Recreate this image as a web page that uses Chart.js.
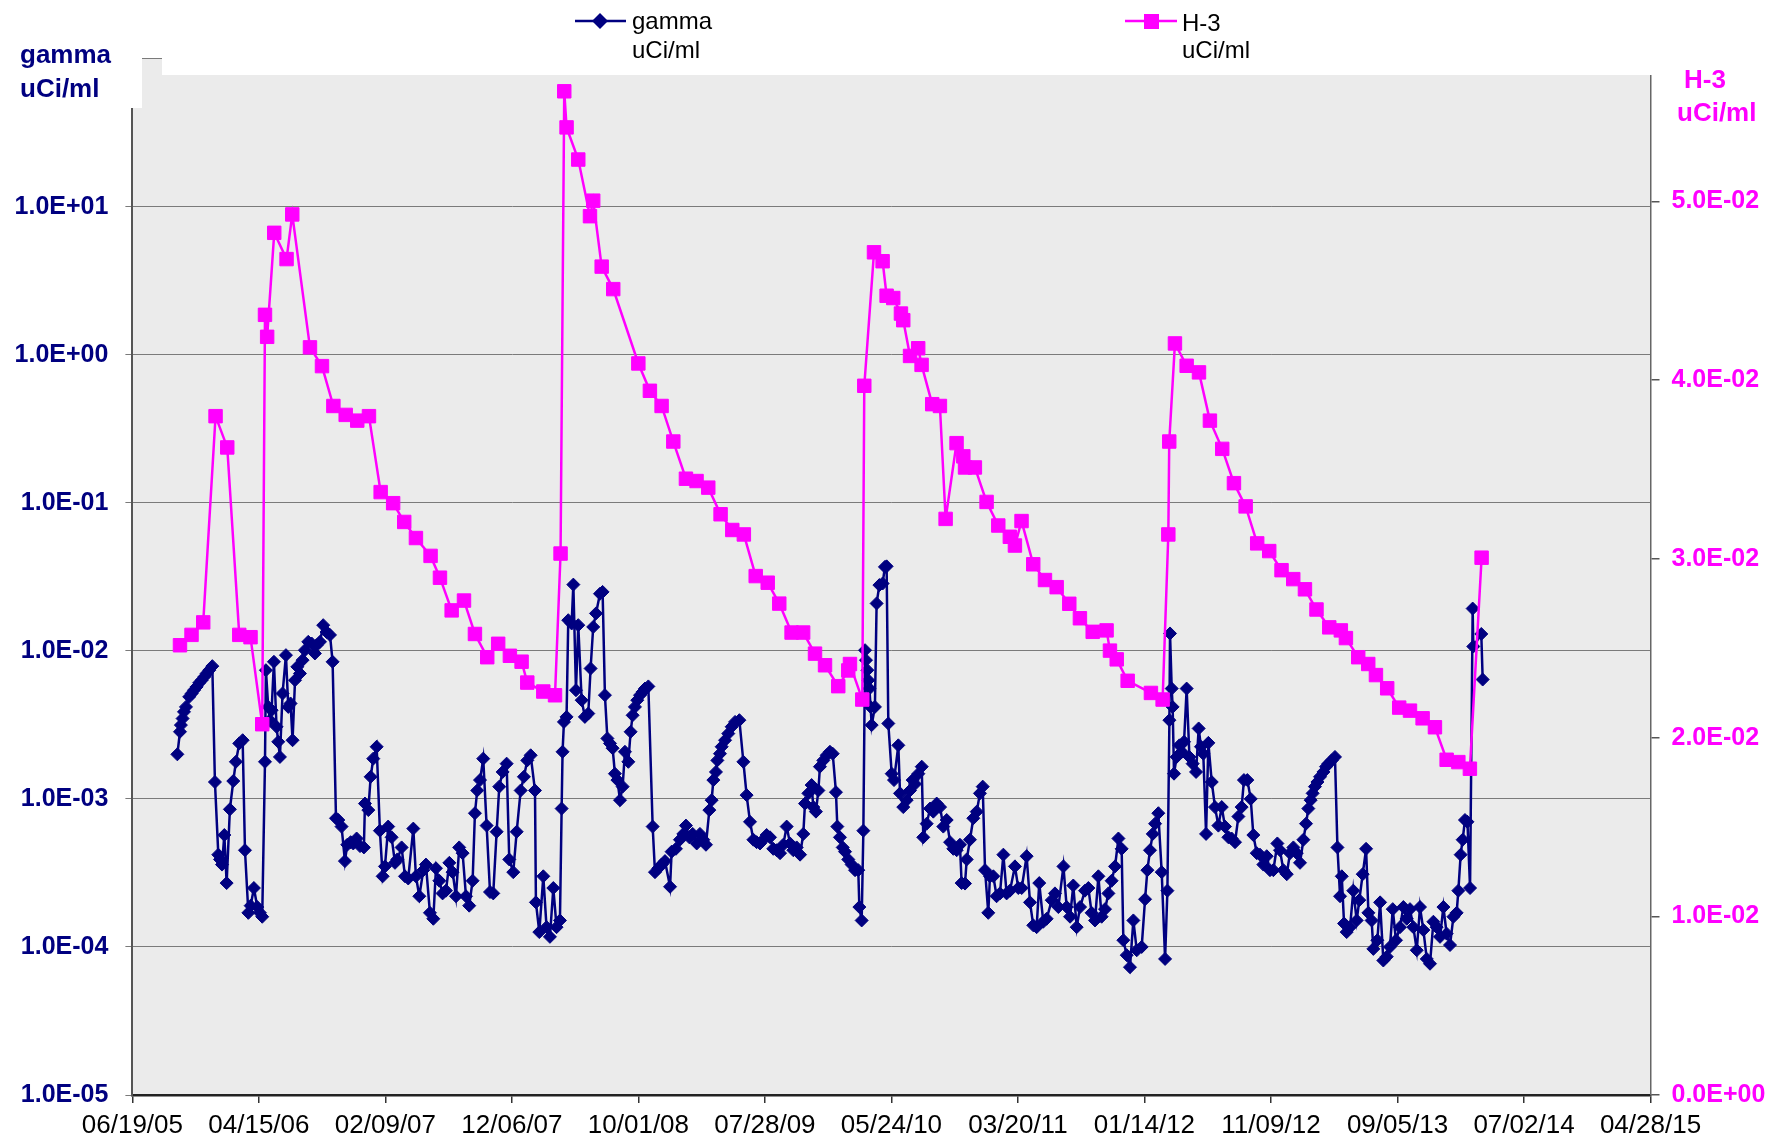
<!DOCTYPE html>
<html>
<head>
<meta charset="utf-8">
<script src="https://cdn.jsdelivr.net/npm/chart.js@4.4.1/dist/chart.umd.min.js"></script>
<style>
  html, body { margin: 0; padding: 0; background: #fff; }
  canvas { display: block; }
</style>
</head>
<body>
<canvas id="chart" width="1775" height="1141"></canvas>
<script>
// x axis tick labels (MM/DD/YY), 300 days apart
const xTickLabels = ['06/19/05', '04/15/06', '02/09/07', '12/06/07', '10/01/08', '07/28/09', '05/24/10',
  '03/20/11', '01/14/12', '11/09/12', '09/05/13', '07/02/14', '04/28/15'];
const gammaTicks = [1e-5, 1e-4, 1e-3, 1e-2, 1e-1, 1, 10, 100];
const h3Ticks = [0, 0.01, 0.02, 0.03, 0.04, 0.05];

const gammaName = ['gamma', 'uCi/ml'];
const h3Name = ['H-3', 'uCi/ml'];

// sample dates as decimal years
const gammaDates = [
  2005.756, 2005.773, 2005.779, 2005.790, 2005.799, 2005.812, 2005.833, 2005.849, 2005.864, 2005.881,
  2005.898, 2005.914, 2005.931, 2005.946, 2005.963, 2005.983, 2006.000, 2006.022, 2006.033, 2006.046,
  2006.061, 2006.076, 2006.097, 2006.119, 2006.136, 2006.158, 2006.180, 2006.195, 2006.217, 2006.232,
  2006.253, 2006.275, 2006.292, 2006.307, 2006.325, 2006.331, 2006.346, 2006.357, 2006.368, 2006.383,
  2006.400, 2006.411, 2006.422, 2006.439, 2006.461, 2006.476, 2006.491, 2006.504, 2006.520, 2006.535,
  2006.552, 2006.569, 2006.584, 2006.606, 2006.628, 2006.649, 2006.660, 2006.682, 2006.703, 2006.725,
  2006.747, 2006.764, 2006.786, 2006.801, 2006.822, 2006.844, 2006.859, 2006.881, 2006.898, 2006.920,
  2006.942, 2006.967, 2006.974, 2006.996, 2007.011, 2007.028, 2007.050, 2007.071, 2007.089, 2007.104,
  2007.125, 2007.147, 2007.169, 2007.184, 2007.212, 2007.234, 2007.255, 2007.288, 2007.305, 2007.327,
  2007.353, 2007.370, 2007.396, 2007.418, 2007.435, 2007.457, 2007.478, 2007.500, 2007.522, 2007.543,
  2007.565, 2007.586, 2007.608, 2007.630, 2007.651, 2007.673, 2007.688, 2007.703, 2007.721, 2007.742,
  2007.764, 2007.786, 2007.807, 2007.829, 2007.846, 2007.868, 2007.894, 2007.911, 2007.937, 2007.959,
  2007.985, 2008.006, 2008.028, 2008.050, 2008.078, 2008.084, 2008.106, 2008.132, 2008.153, 2008.175,
  2008.197, 2008.218, 2008.240, 2008.251, 2008.257, 2008.266, 2008.283, 2008.294, 2008.316, 2008.327,
  2008.344, 2008.359, 2008.381, 2008.402, 2008.424, 2008.439, 2008.456, 2008.474, 2008.500, 2008.517,
  2008.532, 2008.548, 2008.565, 2008.582, 2008.597, 2008.613, 2008.630, 2008.647, 2008.662, 2008.684,
  2008.699, 2008.712, 2008.727, 2008.742, 2008.760, 2008.777, 2008.792, 2008.814, 2008.842, 2008.857,
  2008.879, 2008.900, 2008.922, 2008.955, 2008.965, 2008.993, 2009.019, 2009.041, 2009.058, 2009.080,
  2009.102, 2009.128, 2009.149, 2009.171, 2009.188, 2009.210, 2009.225, 2009.236, 2009.253, 2009.262,
  2009.279, 2009.290, 2009.312, 2009.333, 2009.355, 2009.377, 2009.405, 2009.431, 2009.452, 2009.474,
  2009.496, 2009.517, 2009.539, 2009.560, 2009.582, 2009.604, 2009.625, 2009.647, 2009.669, 2009.690,
  2009.712, 2009.734, 2009.755, 2009.777, 2009.799, 2009.820, 2009.831, 2009.853, 2009.874, 2009.885,
  2009.902, 2009.918, 2009.928, 2009.950, 2009.972, 2009.993, 2010.011, 2010.032, 2010.041, 2010.058,
  2010.076, 2010.091, 2010.112, 2010.134, 2010.156, 2010.177, 2010.184, 2010.199, 2010.210, 2010.221,
  2010.227, 2010.236, 2010.242, 2010.249, 2010.257, 2010.264, 2010.285, 2010.296, 2010.314, 2010.335,
  2010.350, 2010.361, 2010.372, 2010.394, 2010.409, 2010.437, 2010.448, 2010.469, 2010.491, 2010.513,
  2010.530, 2010.545, 2010.567, 2010.589, 2010.599, 2010.621, 2010.643, 2010.664, 2010.686, 2010.708,
  2010.729, 2010.751, 2010.773, 2010.794, 2010.816, 2010.837, 2010.848, 2010.870, 2010.881, 2010.902,
  2010.924, 2010.946, 2010.967, 2010.985, 2011.000, 2011.021, 2011.032, 2011.054, 2011.075, 2011.097,
  2011.119, 2011.140, 2011.162, 2011.194, 2011.216, 2011.238, 2011.270, 2011.292, 2011.313, 2011.335,
  2011.352, 2011.378, 2011.400,
  2011.433, 2011.454, 2011.476, 2011.509, 2011.530, 2011.552, 2011.573, 2011.595, 2011.617, 2011.649,
  2011.671, 2011.692, 2011.714, 2011.736, 2011.757, 2011.779, 2011.801, 2011.822, 2011.844, 2011.866,
  2011.887, 2011.898, 2011.920, 2011.941, 2011.963, 2011.985, 2012.017, 2012.039, 2012.054, 2012.071,
  2012.089, 2012.104, 2012.125, 2012.147, 2012.169, 2012.184, 2012.197, 2012.201, 2012.212, 2012.218,
  2012.227, 2012.244, 2012.262, 2012.277, 2012.292, 2012.309, 2012.327, 2012.348, 2012.370, 2012.387,
  2012.402, 2012.417, 2012.435, 2012.450, 2012.472, 2012.493, 2012.515, 2012.537, 2012.558, 2012.580,
  2012.601, 2012.623, 2012.645, 2012.666, 2012.681, 2012.703, 2012.725, 2012.742, 2012.764, 2012.785,
  2012.807, 2012.829, 2012.850, 2012.872, 2012.898, 2012.915, 2012.937, 2012.959, 2012.980, 2013.002,
  2013.024, 2013.045, 2013.067, 2013.084, 2013.099, 2013.114, 2013.127, 2013.142, 2013.158, 2013.175,
  2013.197, 2013.214, 2013.229, 2013.251, 2013.272, 2013.288, 2013.305, 2013.316, 2013.331, 2013.348,
  2013.370, 2013.391, 2013.413, 2013.430, 2013.452, 2013.474, 2013.489, 2013.510, 2013.521, 2013.547,
  2013.565, 2013.586, 2013.608, 2013.629, 2013.647, 2013.668, 2013.694, 2013.716, 2013.738, 2013.759,
  2013.781, 2013.803, 2013.824, 2013.846, 2013.868, 2013.889, 2013.911, 2013.932, 2013.954, 2013.976,
  2013.997, 2014.019, 2014.041, 2014.062, 2014.073, 2014.088, 2014.101, 2014.116, 2014.132, 2014.149,
  2014.166, 2014.170, 2014.222, 2014.231
];
const gammaValues = [
  2.0e-3, 2.84e-3, 3.15e-3, 3.49e-3, 3.87e-3, 4.18e-3, 4.89e-3, 5.15e-3, 5.42e-3, 5.71e-3,
  6.08e-3, 6.33e-3, 6.67e-3, 7.03e-3, 7.40e-3, 7.88e-3, 1.30e-3, 4.2e-4, 3.9e-4, 3.6e-4,
  5.7e-4, 2.7e-4, 8.5e-4, 1.32e-3, 1.78e-3, 2.37e-3, 2.49e-3, 4.5e-4, 1.7e-4, 1.9e-4,
  2.5e-4, 1.86e-4, 1.7e-4, 1.6e-4, 1.78e-3, 7.4e-3, 4.18e-3, 3.4e-3, 3.97e-3, 8.43e-3,
  3.07e-3, 2.43e-3, 1.92e-3, 5.15e-3, 9.35e-3, 4.18e-3, 4.41e-3, 2.49e-3, 6.33e-3, 7.8e-3,
  7.03e-3, 8.65e-3, 1.01e-2, 1.15e-2, 1.12e-2, 9.6e-3, 1.09e-2, 1.15e-2, 1.49e-2, 1.34e-2,
  1.28e-2, 8.43e-3, 7.4e-4, 7.2e-4, 6.5e-4, 3.8e-4, 4.9e-4, 5.1e-4, 5.0e-4, 5.4e-4,
  4.8e-4, 4.7e-4, 9.3e-4, 8.4e-4, 1.41e-3, 1.87e-3, 2.25e-3, 6.1e-4, 3.0e-4, 3.5e-4,
  6.5e-4, 5.5e-4, 3.7e-4, 3.9e-4, 4.7e-4, 3.0e-4, 2.9e-4, 6.3e-4, 3.0e-4, 2.2e-4,
  3.3e-4, 3.6e-4, 1.7e-4, 1.55e-4, 3.4e-4, 2.8e-4, 2.3e-4, 2.4e-4, 3.7e-4, 3.2e-4,
  2.2e-4, 4.7e-4, 4.3e-4, 2.2e-4, 1.9e-4, 2.8e-4, 8.0e-4, 1.14e-3, 1.34e-3, 1.87e-3,
  6.6e-4, 2.35e-4, 2.3e-4, 6.0e-4, 1.21e-3, 1.52e-3, 1.73e-3, 3.9e-4, 3.2e-4, 6.0e-4,
  1.14e-3, 1.41e-3, 1.82e-3, 1.97e-3, 1.14e-3, 2.0e-4, 1.26e-4, 3.0e-4, 1.36e-4, 1.17e-4,
  2.5e-4, 1.36e-4, 1.51e-4, 8.6e-4, 2.08e-3, 3.31e-3, 3.58e-3, 1.61e-2, 1.53e-2, 2.8e-2,
  5.42e-3, 1.49e-2, 4.64e-3, 3.58e-3, 3.77e-3, 7.6e-3, 1.45e-2, 1.79e-2, 2.43e-2, 2.5e-2,
  5.02e-3, 2.56e-3, 2.37e-3, 2.2e-3, 1.48e-3, 1.34e-3, 9.8e-4, 1.21e-3, 2.08e-3, 1.78e-3,
  2.84e-3, 3.67e-3, 4.18e-3, 4.64e-3, 5.02e-3, 5.28e-3, 5.56e-3, 5.75e-3, 6.5e-4, 3.2e-4,
  3.4e-4, 3.6e-4, 3.8e-4, 2.55e-4, 4.4e-4, 4.6e-4, 5.3e-4, 5.8e-4, 6.6e-4, 5.5e-4,
  5.8e-4, 5.0e-4, 5.8e-4, 5.3e-4, 4.9e-4, 8.4e-4, 9.8e-4, 1.34e-3, 1.52e-3, 1.82e-3,
  2.02e-3, 2.25e-3, 2.49e-3, 2.76e-3, 3.07e-3, 3.31e-3, 3.4e-3, 1.78e-3, 1.06e-3, 7.0e-4,
  5.3e-4, 5.1e-4, 5.0e-4, 5.3e-4, 5.7e-4, 5.5e-4, 4.6e-4, 4.5e-4, 4.3e-4, 4.9e-4,
  6.5e-4, 5.0e-4, 4.5e-4, 4.7e-4, 4.2e-4, 5.8e-4, 9.3e-4, 1.09e-3, 1.24e-3, 8.8e-4,
  8.2e-4, 1.14e-3, 1.65e-3, 1.82e-3, 1.97e-3, 2.08e-3, 2.02e-3, 1.11e-3, 6.5e-4, 5.5e-4,
  4.7e-4, 4.4e-4, 3.9e-4, 3.6e-4, 3.3e-4, 3.3e-4, 1.86e-4, 1.51e-4, 6.1e-4, 1.01e-2,
  8.65e-3, 7.4e-3, 6.33e-3, 5.56e-3, 4.18e-3, 3.15e-3, 4.18e-3, 2.09e-2, 2.78e-2, 2.85e-2,
  3.69e-2, 3.72e-2, 3.23e-3, 1.48e-3, 1.34e-3, 2.3e-3, 1.09e-3, 8.8e-4, 9.8e-4, 1.14e-3,
  1.34e-3, 1.26e-3, 1.48e-3, 1.65e-3, 5.5e-4, 6.8e-4, 8.6e-4, 8.2e-4, 9.3e-4, 8.8e-4,
  6.5e-4, 7.2e-4, 5.1e-4, 4.6e-4, 4.5e-4, 4.9e-4, 2.7e-4, 2.68e-4, 3.9e-4, 5.3e-4,
  7.4e-4, 8.2e-4, 1.09e-3, 1.21e-3, 3.3e-4, 1.7e-4, 3.0e-4, 3.0e-4, 2.2e-4, 2.3e-4,
  4.2e-4, 2.3e-4, 2.4e-4, 3.5e-4, 2.5e-4, 2.5e-4, 4.1e-4, 2.0e-4, 1.4e-4, 1.36e-4,
  2.7e-4, 1.48e-4, 1.55e-4,
  2.07e-4, 2.3e-4, 1.86e-4, 3.5e-4, 1.86e-4, 1.6e-4, 2.6e-4, 1.36e-4, 1.86e-4, 2.4e-4,
  2.5e-4, 1.7e-4, 1.51e-4, 3.0e-4, 1.6e-4, 1.8e-4, 2.3e-4, 2.8e-4, 3.5e-4, 5.4e-4,
  4.6e-4, 1.11e-4, 8.8e-5, 7.3e-5, 1.51e-4, 9.5e-5, 1.0e-4, 2.1e-4, 3.3e-4, 4.5e-4,
  5.8e-4, 6.8e-4, 8.0e-4, 3.2e-4, 8.3e-5, 2.4e-4, 3.4e-3, 1.31e-2, 5.56e-3, 4.18e-3,
  1.48e-3, 1.92e-3, 2.3e-3, 2.08e-3, 2.43e-3, 5.56e-3, 1.92e-3, 1.73e-3, 1.52e-3, 2.99e-3,
  2.25e-3, 2.02e-3, 5.8e-4, 2.39e-3, 1.3e-3, 8.8e-4, 6.6e-4, 8.8e-4, 6.5e-4, 5.5e-4,
  5.4e-4, 5.1e-4, 7.6e-4, 8.8e-4, 1.34e-3, 1.34e-3, 1.0e-3, 5.7e-4, 4.3e-4, 4.2e-4,
  3.6e-4, 4.1e-4, 3.3e-4, 3.3e-4, 5.0e-4, 4.5e-4, 3.3e-4, 3.1e-4, 4.3e-4, 4.7e-4,
  4.3e-4, 3.7e-4, 5.3e-4, 6.8e-4, 8.6e-4, 9.8e-4, 1.09e-3, 1.21e-3, 1.3e-3, 1.41e-3,
  1.52e-3, 1.65e-3, 1.73e-3, 1.82e-3, 1.92e-3, 4.7e-4, 2.2e-4, 3.0e-4, 1.44e-4, 1.26e-4,
  1.36e-4, 2.4e-4, 1.51e-4, 2.07e-4, 3.1e-4, 4.6e-4, 1.7e-4, 1.51e-4, 9.7e-5, 1.11e-4,
  2.0e-4, 8.1e-5, 8.6e-5, 1.0e-4, 1.8e-4, 1.11e-4, 1.36e-4, 1.86e-4, 1.55e-4, 1.8e-4,
  1.36e-4, 9.5e-5, 1.86e-4, 1.3e-4, 8.3e-5, 7.7e-5, 1.48e-4, 1.36e-4, 1.17e-4, 1.86e-4,
  1.23e-4, 1.03e-4, 1.6e-4, 1.7e-4, 2.4e-4, 4.2e-4, 5.3e-4, 7.2e-4, 7.0e-4, 2.5e-4,
  1.93e-2, 1.07e-2, 1.3e-2, 6.4e-3
];

const h3Dates = [
  2005.773, 2005.848, 2005.924, 2006.004, 2006.080, 2006.158, 2006.231, 2006.307, 2006.325, 2006.339,
  2006.385, 2006.465, 2006.502, 2006.617, 2006.695, 2006.769, 2006.849, 2006.924, 2007.000, 2007.076,
  2007.157, 2007.229, 2007.305, 2007.400, 2007.461, 2007.537, 2007.617, 2007.688, 2007.768, 2007.839,
  2007.915, 2007.991, 2008.028, 2008.132, 2008.208, 2008.244, 2008.268, 2008.283, 2008.359, 2008.435,
  2008.456, 2008.511, 2008.586, 2008.749, 2008.824, 2008.900, 2008.976, 2009.058, 2009.127, 2009.203,
  2009.283, 2009.359, 2009.434, 2009.511, 2009.589, 2009.664, 2009.744, 2009.819, 2009.896, 2009.961,
  2010.047, 2010.112, 2010.123, 2010.203, 2010.216, 2010.279, 2010.335, 2010.361, 2010.404, 2010.454,
  2010.469, 2010.513, 2010.566, 2010.588, 2010.657, 2010.707, 2010.744, 2010.815, 2010.859, 2010.870,
  2010.934, 2011.010, 2011.086, 2011.161, 2011.194, 2011.237, 2011.313, 2011.389, 2011.465, 2011.547,
  2011.616, 2011.699, 2011.789, 2011.811, 2011.855, 2011.926, 2012.077, 2012.153, 2012.190, 2012.196,
  2012.233, 2012.309, 2012.389, 2012.460, 2012.540, 2012.616, 2012.692, 2012.767, 2012.845, 2012.925,
  2013.001, 2013.077, 2013.152, 2013.235, 2013.310, 2013.343, 2013.423, 2013.488, 2013.538, 2013.611,
  2013.689, 2013.759, 2013.841, 2013.921, 2013.997, 2014.073, 2014.148, 2014.224
];
const h3Values = [
  0.02517, 0.02575, 0.02645, 0.03799, 0.03624, 0.02575, 0.02562, 0.02075, 0.04366, 0.04243,
  0.04825, 0.04678, 0.04928, 0.04184, 0.04079, 0.03856, 0.03806, 0.03774, 0.03799, 0.03374,
  0.03312, 0.03207, 0.03117, 0.03017, 0.02895, 0.02712, 0.02767, 0.02580, 0.02450, 0.02525,
  0.02458, 0.02425, 0.02308, 0.02258, 0.02237, 0.03030, 0.05617, 0.05415, 0.05235, 0.04918,
  0.05005, 0.04636, 0.04510, 0.04094, 0.03941, 0.03856, 0.03657, 0.03449, 0.03436, 0.03399,
  0.03250, 0.03162, 0.03137, 0.02904, 0.02867, 0.02750, 0.02588, 0.02588, 0.02470, 0.02405,
  0.02288, 0.02376, 0.02412, 0.02213, 0.03969, 0.04716, 0.04666, 0.04473, 0.04460, 0.04373,
  0.04336, 0.04136, 0.04179, 0.04086, 0.03866, 0.03856, 0.03224, 0.03648, 0.03574, 0.03512,
  0.03512, 0.03319, 0.03187, 0.03124, 0.03075, 0.03212, 0.02970, 0.02882, 0.02842, 0.02749,
  0.02668, 0.02592, 0.02600, 0.02487, 0.02438, 0.02318, 0.02250, 0.02213, 0.03137, 0.03657,
  0.04206, 0.04081, 0.04044, 0.03774, 0.03616, 0.03424, 0.03294, 0.03087, 0.03044, 0.02937,
  0.02887, 0.02830, 0.02717, 0.02617, 0.02600, 0.02557, 0.02450, 0.02412, 0.02350, 0.02276,
  0.02168, 0.02151, 0.02108, 0.02058, 0.01876, 0.01863, 0.01826, 0.03007
];

const NAVY = '#000080';
const MAGENTA = '#FF00FF';
const FONT = '"Liberation Sans", Arial, sans-serif';
const DAY = 864e5;

const parseTick = s => {
  const [m, d, y] = s.split('/').map(Number);
  return Date.UTC(2000 + y, m - 1, d);
};
const yearToMs = yr => (yr - 1970) * 365.2425 * DAY;
const pad2 = n => String(n).padStart(2, '0');
const fmtDate = ms => {
  const d = new Date(ms);
  return pad2(d.getUTCMonth() + 1) + '/' + pad2(d.getUTCDate()) + '/' + pad2(d.getUTCFullYear() % 100);
};
const sci = v => {
  if (v === 0) return '0.0E+00';
  const e = Math.floor(Math.log10(v) + 1e-9);
  const m = v / Math.pow(10, e);
  return m.toFixed(1) + 'E' + (e < 0 ? '-' : '+') + pad2(Math.abs(e));
};

const gammaPoints = gammaDates.map((d, i) => ({ x: yearToMs(d), y: gammaValues[i] }));
const h3Points = h3Dates.map((d, i) => ({ x: yearToMs(d), y: h3Values[i] }));
const xTickValues = xTickLabels.map(parseTick);

function diamond(ctx, x, y, r) {
  ctx.beginPath();
  ctx.moveTo(x - r, y);
  ctx.lineTo(x, y - r);
  ctx.lineTo(x + r, y);
  ctx.lineTo(x, y + r);
  ctx.closePath();
  ctx.fill();
}

const decor = {
  id: 'decor',
  beforeDraw(chart) {
    const { ctx, chartArea: a } = chart;
    ctx.save();
    ctx.fillStyle = '#fff';
    ctx.fillRect(0, 0, chart.width, chart.height);
    ctx.fillStyle = '#ebebeb';
    ctx.fillRect(a.left, a.top, a.right - a.left, a.bottom - a.top);
    ctx.restore();
  },
  afterDraw(chart) {
    const ctx = chart.ctx;
    ctx.save();
    // white boxes of the axis title and the legend laid over the plot
    ctx.fillStyle = '#fff';
    ctx.fillRect(0, 0, 142, 108);
    ctx.fillRect(162, 0, chart.width - 162, 75);

    // legend
    ctx.lineWidth = 2.5;
    ctx.strokeStyle = NAVY;
    ctx.beginPath(); ctx.moveTo(575, 21); ctx.lineTo(626, 21); ctx.stroke();
    ctx.fillStyle = NAVY;
    diamond(ctx, 600, 21, 8);
    ctx.strokeStyle = MAGENTA;
    ctx.beginPath(); ctx.moveTo(1125, 21); ctx.lineTo(1177, 21); ctx.stroke();
    ctx.fillStyle = MAGENTA;
    ctx.fillRect(1144, 14, 15, 15);

    ctx.fillStyle = '#000';
    ctx.font = '24px ' + FONT;
    ctx.textBaseline = 'alphabetic';
    ctx.textAlign = 'left';
    ctx.fillText(gammaName[0], 632, 29);
    ctx.fillText(gammaName[1], 632, 58);
    ctx.fillText(h3Name[0], 1182, 31);
    ctx.fillText(h3Name[1], 1182, 58);

    // axis titles
    ctx.font = 'bold 26px ' + FONT;
    ctx.fillStyle = NAVY;
    ctx.fillText(gammaName[0], 20, 63);
    ctx.fillText(gammaName[1], 20, 97);
    ctx.fillStyle = MAGENTA;
    ctx.fillText(h3Name[0], 1684, 88);
    ctx.fillText(h3Name[1], 1677, 121);
    ctx.restore();
  }
};

Chart.defaults.font.family = FONT;

new Chart(document.getElementById('chart'), {
  type: 'line',
  data: {
    datasets: [
      {
        label: h3Name.join(' '),
        data: h3Points,
        yAxisID: 'yH3',
        order: 0,
        borderColor: MAGENTA,
        backgroundColor: MAGENTA,
        borderWidth: 2.5,
        pointStyle: 'rect',
        pointRadius: 9.5,
        pointBorderWidth: 1,
        pointBackgroundColor: MAGENTA,
        pointBorderColor: MAGENTA,
        tension: 0
      },
      {
        label: gammaName.join(' '),
        data: gammaPoints,
        yAxisID: 'yGamma',
        order: 1,
        borderColor: NAVY,
        backgroundColor: NAVY,
        borderWidth: 2.5,
        pointStyle: 'rectRot',
        pointRadius: 6.5,
        pointBorderWidth: 1,
        pointBackgroundColor: NAVY,
        pointBorderColor: NAVY,
        tension: 0
      }
    ]
  },
  options: {
    responsive: false,
    animation: false,
    devicePixelRatio: 1,
    layout: { padding: { top: 58.6, left: 0, right: 0, bottom: 0 } },
    plugins: { legend: { display: false }, tooltip: { enabled: false } },
    scales: {
      x: {
        type: 'linear',
        min: xTickValues[0],
        max: xTickValues[xTickValues.length - 1],
        afterBuildTicks: s => { s.ticks = xTickValues.map(v => ({ value: v })); },
        afterFit: s => { s.height = 46; },
        grid: { drawOnChartArea: false, tickLength: 8, color: '#333', lineWidth: 1.5 },
        border: { color: '#222', width: 2.5 },
        ticks: {
          autoSkip: false, maxRotation: 0, padding: 7,
          color: '#000', font: { size: 26 },
          callback: v => fmtDate(v)
        }
      },
      yGamma: {
        type: 'logarithmic',
        position: 'left',
        min: 1e-5,
        max: 100,
        afterBuildTicks: s => { s.ticks = gammaTicks.map(v => ({ value: v })); },
        afterFit: s => { s.width = 132.4; },
        grid: { color: '#7a7a7a', lineWidth: 1, tickLength: 7 },
        border: { color: '#555', width: 2 },
        ticks: {
          padding: 17, color: NAVY, font: { size: 25, weight: 'bold' },
          callback: v => sci(v)
        }
      },
      yH3: {
        type: 'linear',
        position: 'right',
        min: 0,
        max: 0.058,
        afterBuildTicks: s => { s.ticks = h3Ticks.map(v => ({ value: v })); },
        afterFit: s => { s.width = 124.5; },
        grid: { drawOnChartArea: false, tickLength: 9, color: '#555', lineWidth: 1.5 },
        border: { color: '#666', width: 1.5 },
        ticks: {
          padding: 12, color: MAGENTA, font: { size: 25, weight: 'bold' },
          callback: v => sci(v)
        }
      }
    }
  },
  plugins: [decor]
});
</script>
</body>
</html>
